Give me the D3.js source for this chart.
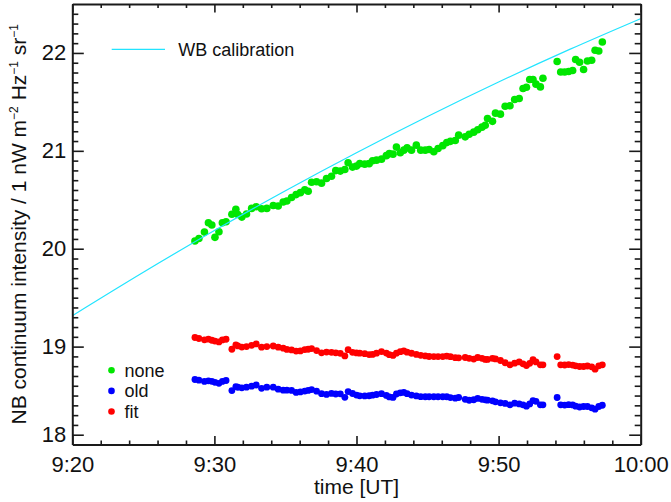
<!DOCTYPE html>
<html>
<head>
<meta charset="utf-8">
<script src="https://cdn.jsdelivr.net/npm/d3@7"></script>
<style>
  body { margin: 0; background: #fff; }
  svg { display: block; }
  text { font-family: "Liberation Sans", Arial, Helvetica, sans-serif; fill: #111; }
</style>
</head>
<body>
<svg id="chart" width="671" height="502"></svg>
<script>
// Observation times, minutes after 9:00 UT
const timeMin = [
  28.63, 28.91, 29.30, 29.58, 29.82, 30.04, 30.32, 30.56, 30.82, 31.23,
  31.51, 31.65, 31.93, 32.26, 32.62, 32.94, 33.32, 33.69, 34.14, 34.49,
  34.84, 35.10, 35.43, 35.75, 36.05, 36.36, 36.60, 36.84, 37.19, 37.54,
  37.89, 38.24, 38.54, 38.86, 39.18, 39.41, 39.72, 40.00, 40.23, 40.58,
  40.89, 41.13, 41.41, 41.76, 42.10, 42.31, 42.57, 42.81, 43.08, 43.33,
  43.56, 43.87, 44.21, 44.52, 44.84, 45.11, 45.44, 45.74, 46.07, 46.35,
  46.61, 46.95, 47.19, 47.65, 47.93, 48.25, 48.53, 48.83, 49.06, 49.22,
  49.57, 49.78, 50.13, 50.46, 50.80, 51.13, 51.45, 51.72, 51.96, 52.19,
  52.42, 52.63, 52.94, 53.12, 54.12, 54.37, 54.65, 54.93, 55.21, 55.42,
  55.70, 55.98, 56.25, 56.55, 56.79, 57.05, 57.30
];

// NB continuum intensity with no correction
const noneVals = [
  20.079, 20.104, 20.170, 20.265, 20.242, 20.116, 20.173, 20.265, 20.276, 20.352,
  20.403, 20.349, 20.323, 20.354, 20.412, 20.429, 20.408, 20.412, 20.441, 20.436,
  20.477, 20.487, 20.524, 20.553, 20.573, 20.602, 20.587, 20.679, 20.684, 20.670,
  20.718, 20.740, 20.798, 20.793, 20.810, 20.878, 20.834, 20.844, 20.869, 20.864,
  20.869, 20.898, 20.905, 20.915, 20.951, 20.971, 20.966, 21.038, 20.980, 21.007,
  21.030, 21.007, 21.058, 21.007, 21.007, 21.014, 20.990, 21.024, 21.053, 21.084,
  21.097, 21.106, 21.160, 21.143, 21.170, 21.191, 21.216, 21.242, 21.262, 21.331,
  21.301, 21.385, 21.375, 21.456, 21.461, 21.524, 21.535, 21.637, 21.650, 21.729,
  21.729, 21.681, 21.653, 21.742, 21.913, 21.806, 21.805, 21.810, 21.821, 21.933,
  21.905, 21.831, 21.918, 21.925, 22.028, 22.020, 22.112
];

// Old correction
const oldVals = [
  18.664, 18.657, 18.644, 18.650, 18.645, 18.635, 18.625, 18.644, 18.654, 18.551,
  18.592, 18.585, 18.579, 18.586, 18.596, 18.608, 18.574, 18.586, 18.586, 18.565,
  18.555, 18.555, 18.552, 18.532, 18.537, 18.546, 18.552, 18.561, 18.545, 18.519,
  18.512, 18.522, 18.516, 18.518, 18.482, 18.541, 18.521, 18.505, 18.497, 18.496,
  18.498, 18.504, 18.511, 18.519, 18.501, 18.486, 18.481, 18.516, 18.528, 18.532,
  18.519, 18.505, 18.496, 18.489, 18.488, 18.488, 18.488, 18.488, 18.488, 18.488,
  18.479, 18.473, 18.480, 18.461, 18.452, 18.457, 18.471, 18.461, 18.456, 18.453,
  18.446, 18.436, 18.426, 18.420, 18.405, 18.422, 18.415, 18.405, 18.392, 18.415,
  18.449, 18.441, 18.405, 18.405, 18.480, 18.405, 18.403, 18.407, 18.404, 18.392,
  18.383, 18.388, 18.388, 18.375, 18.361, 18.388, 18.401
];

// Fitted correction
const fitVals = [
  19.093, 19.083, 19.069, 19.076, 19.065, 19.057, 19.048, 19.068, 19.075, 18.973,
  19.017, 19.007, 18.995, 19.000, 19.013, 19.027, 18.994, 19.000, 19.006, 18.994,
  18.984, 18.971, 18.966, 18.954, 18.956, 18.970, 18.973, 18.980, 18.960, 18.937,
  18.944, 18.942, 18.937, 18.931, 18.905, 18.969, 18.942, 18.936, 18.933, 18.928,
  18.919, 18.920, 18.933, 18.949, 18.934, 18.918, 18.910, 18.933, 18.948, 18.956,
  18.943, 18.932, 18.920, 18.911, 18.905, 18.899, 18.898, 18.898, 18.898, 18.903,
  18.897, 18.887, 18.885, 18.889, 18.880, 18.873, 18.889, 18.880, 18.869, 18.869,
  18.880, 18.874, 18.858, 18.835, 18.814, 18.831, 18.844, 18.824, 18.806, 18.829,
  18.868, 18.844, 18.814, 18.814, 18.898, 18.814, 18.812, 18.816, 18.811, 18.804,
  18.797, 18.797, 18.802, 18.794, 18.770, 18.804, 18.814
];

// WB calibration curve
const wbTime = [20, 25, 30, 35, 40, 45, 50, 55, 60];
const wbVals = [19.316, 19.760, 20.186, 20.593, 20.981, 21.351, 21.703, 22.036, 22.351];

// Axis ticks
const xMajorTicks = [20, 30, 40, 50, 60];
const xMinorTicks = [22, 24, 26, 28, 32, 34, 36, 38, 42, 44, 46, 48, 52, 54, 56, 58];
const yMajorTicks = [18.1, 19, 20, 21, 22];
const yTickLabels = ["18", "19", "20", "21", "22"];

const seriesNames = ["none", "old", "fit"];
const seriesColors = { none: "#00e600", old: "#0000ff", fit: "#ff0000", wb: "#22e4ff" };

const svg = d3.select("#chart");
const plotLeft = 72.3, plotRight = 640.7, plotTop = 4, plotBottom = 444.5;

const x = d3.scaleLinear().domain([20, 60]).range([plotLeft, plotRight]);
const y = d3.scaleLinear().domain([18, 22.5]).range([plotBottom, plotTop]);

const yMinorTicks = d3.range(181, 225).map(d => d / 10)
  .filter(v => !yMajorTicks.some(m => Math.abs(m - v) < 1e-6));

const fmtTime = m => `${9 + Math.floor(m / 60)}:${String(Math.round(m % 60)).padStart(2, "0")}`;

svg.append("defs").append("clipPath").attr("id", "plotClip")
  .append("rect").attr("x", plotLeft).attr("y", plotTop)
  .attr("width", plotRight - plotLeft).attr("height", plotBottom - plotTop);

// data points
const plotG = svg.append("g").attr("clip-path", "url(#plotClip)");
const dataSets = [
  { name: "none", vals: noneVals, r: 3.8 },
  { name: "old", vals: oldVals, r: 3.4 },
  { name: "fit", vals: fitVals, r: 3.4 }
];
dataSets.forEach(s => {
  plotG.append("g").selectAll("circle")
    .data(timeMin.map((t, i) => [t, s.vals[i]]))
    .join("circle")
    .attr("cx", d => x(d[0]))
    .attr("cy", d => y(d[1]))
    .attr("r", s.r)
    .attr("fill", seriesColors[s.name]);
});

// WB calibration curve
const wbLine = d3.line().x(d => x(d[0])).y(d => y(d[1])).curve(d3.curveMonotoneX);
plotG.append("path")
  .attr("d", wbLine(wbTime.map((t, i) => [t, wbVals[i]])))
  .attr("fill", "none")
  .attr("stroke", seriesColors.wb)
  .attr("stroke-width", 1.2);

// axes
function styleAxis(g, width) {
  g.select(".domain").attr("stroke", "#1a1a1a").attr("stroke-width", 2);
  g.selectAll(".tick line").attr("stroke", "#1a1a1a").attr("stroke-width", width);
  g.selectAll("text").attr("font-size", 22).attr("fill", "#111")
    .attr("font-family", '"Liberation Sans", Arial, sans-serif');
}

const axB = svg.append("g").attr("transform", `translate(0,${plotBottom})`)
  .call(d3.axisBottom(x).tickValues(xMajorTicks).tickSize(-8.5).tickSizeOuter(0).tickPadding(12).tickFormat(fmtTime));
styleAxis(axB, 1.6);
const axBm = svg.append("g").attr("transform", `translate(0,${plotBottom})`)
  .call(d3.axisBottom(x).tickValues(xMinorTicks).tickSize(-4).tickSizeOuter(0).tickFormat(""));
styleAxis(axBm, 1.6);
axBm.select(".domain").remove();

const axT = svg.append("g").attr("transform", `translate(0,${plotTop})`)
  .call(d3.axisTop(x).tickValues(xMajorTicks).tickSize(-8.5).tickSizeOuter(0).tickFormat(""));
styleAxis(axT, 1.6);
const axTm = svg.append("g").attr("transform", `translate(0,${plotTop})`)
  .call(d3.axisTop(x).tickValues(xMinorTicks).tickSize(-4).tickSizeOuter(0).tickFormat(""));
styleAxis(axTm, 1.6);
axTm.select(".domain").remove();

const axL = svg.append("g").attr("transform", `translate(${plotLeft},0)`)
  .call(d3.axisLeft(y).tickValues(yMajorTicks).tickSize(-11.5).tickSizeOuter(0).tickPadding(6)
    .tickFormat((d, i) => yTickLabels[i]));
styleAxis(axL, 1.6);
const axLm = svg.append("g").attr("transform", `translate(${plotLeft},0)`)
  .call(d3.axisLeft(y).tickValues(yMinorTicks).tickSize(-6).tickSizeOuter(0).tickFormat(""));
styleAxis(axLm, 1.6);
axLm.select(".domain").remove();

const axR = svg.append("g").attr("transform", `translate(${plotRight},0)`)
  .call(d3.axisRight(y).tickValues(yMajorTicks).tickSize(-11.5).tickSizeOuter(0).tickFormat(""));
styleAxis(axR, 1.6);
const axRm = svg.append("g").attr("transform", `translate(${plotRight},0)`)
  .call(d3.axisRight(y).tickValues(yMinorTicks).tickSize(-6).tickSizeOuter(0).tickFormat(""));
styleAxis(axRm, 1.6);
axRm.select(".domain").remove();

// axis titles
svg.append("text")
  .attr("x", (plotLeft + plotRight) / 2).attr("y", 494)
  .attr("text-anchor", "middle").attr("font-size", 21)
  .text("time [UT]");

const yTitle = svg.append("text")
  .attr("transform", `translate(26,${(plotTop + plotBottom) / 2}) rotate(-90)`)
  .attr("text-anchor", "middle").attr("font-size", 21);
yTitle.append("tspan").text("NB continuum intensity / 1 nW m");
yTitle.append("tspan").attr("dy", -8).attr("font-size", 12).text("\u22122");
yTitle.append("tspan").attr("dy", 8).text(" Hz");
yTitle.append("tspan").attr("dy", -8).attr("font-size", 12).text("\u22121");
yTitle.append("tspan").attr("dy", 8).text(" sr");
yTitle.append("tspan").attr("dy", -8).attr("font-size", 12).text("\u22121");

// legend: calibration curve
svg.append("line")
  .attr("x1", 111.7).attr("x2", 165).attr("y1", 49.3).attr("y2", 49.3)
  .attr("stroke", seriesColors.wb).attr("stroke-width", 1.2);
svg.append("text").attr("x", 178.3).attr("y", 55.8).attr("font-size", 18).text("WB calibration");

// legend: data series
const legG = svg.append("g");
seriesNames.forEach((name, i) => {
  const ly = 370.3 + i * 20.6;
  legG.append("circle").attr("cx", 111.5).attr("cy", ly).attr("r", 3.3).attr("fill", seriesColors[name]);
  legG.append("text").attr("x", 124.5).attr("y", ly + 6.4).attr("font-size", 18).text(name);
});
</script>
</body>
</html>
